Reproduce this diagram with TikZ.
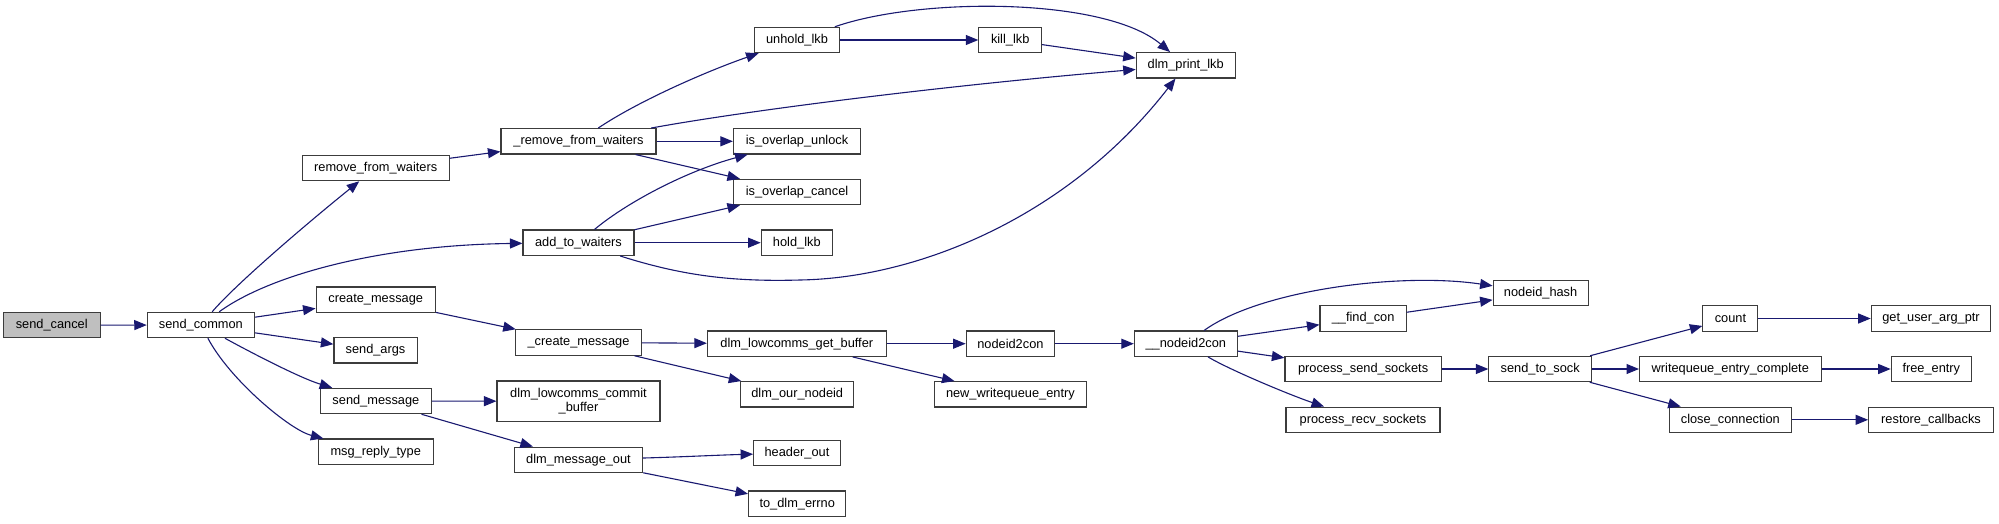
\documentclass[tikz,border=0pt]{standalone}
\usepackage{fontspec}
\setmainfont{Liberation Sans}
\usetikzlibrary{arrows.meta}
\definecolor{edgeblue}{RGB}{25,25,112}
\definecolor{boxline}{RGB}{60,60,60}
\definecolor{rootfill}{RGB}{191,191,191}
\begin{document}
\begin{tikzpicture}[x=1pt,y=-1pt,
  box/.style={draw=boxline, line width=1.1pt, inner sep=0pt, minimum height=25.4pt,
    font=\fontsize{12.8}{13.6}\selectfont, text=black, align=center},
  edge/.style={draw=edgeblue, line width=1.1pt, -{Triangle[length=12.5pt,width=10pt]}}]
\useasboundingbox (0,0) rectangle (1999,523);
% nodes
\node[box, fill=rootfill, minimum width=96.7pt] (sendcancel) at (51.7,325.2) {send\_cancel};
\node[box, minimum width=107.2pt] (sendcommon) at (200.9,325) {send\_common};
\node[box, minimum width=146.9pt] (rfw) at (375.7,168) {remove\_from\_waiters};
\node[box, minimum width=155pt] (urfw) at (578.5,141.3) {\_remove\_from\_waiters};
\node[box, minimum width=111pt] (atw) at (578.5,242.7) {add\_to\_waiters};
\node[box, minimum width=119.2pt] (cm) at (375.7,299.7) {create\_message};
\node[box, minimum width=83.1pt] (sargs) at (375.5,350.3) {send\_args};
\node[box, minimum width=110.8pt] (smsg) at (375.9,401) {send\_message};
\node[box, minimum width=114.7pt] (mrt) at (375.7,451.7) {msg\_reply\_type};
\node[box, minimum width=125.7pt] (ucm) at (578.5,342.5) {\_create\_message};
\node[box, minimum width=163pt, minimum height=40.7pt] (lcb) at (578.5,401.3) {dlm\_lowcomms\_commit\\\_buffer};
\node[box, minimum width=128.3pt] (dmo) at (578.5,459.8) {dlm\_message\_out};
\node[box, minimum width=84.2pt] (unhold) at (797,40) {unhold\_lkb};
\node[box, minimum width=62.7pt] (kill) at (1010.2,40) {kill\_lkb};
\node[box, minimum width=98.9pt] (print) at (1185.7,65.3) {dlm\_print\_lkb};
\node[box, minimum width=127.1pt] (iou) at (797,141.3) {is\_overlap\_unlock};
\node[box, minimum width=127.1pt] (ioc) at (797,192) {is\_overlap\_cancel};
\node[box, minimum width=71.2pt] (hold) at (796.8,242.7) {hold\_lkb};
\node[box, minimum width=178.8pt] (lgb) at (796.8,343.7) {dlm\_lowcomms\_get\_buffer};
\node[box, minimum width=88.4pt] (n2c) at (1010.4,343.7) {nodeid2con};
\node[box, minimum width=102.9pt] (un2c) at (1185.8,343.7) {\_\_nodeid2con};
\node[box, minimum width=113.2pt] (onid) at (797.2,394.3) {dlm\_our\_nodeid};
\node[box, minimum width=152.4pt] (nwe) at (1010.4,394.3) {new\_writequeue\_entry};
\node[box, minimum width=86.7pt] (hout) at (797,453) {header\_out};
\node[box, minimum width=97.2pt] (errno) at (797.2,503.7) {to\_dlm\_errno};
\node[box, minimum width=94.9pt] (nhash) at (1540.6,293) {nodeid\_hash};
\node[box, minimum width=86.2pt] (fcon) at (1363.1,318.5) {\_\_find\_con};
\node[box, minimum width=156.3pt] (pss) at (1363.1,369) {process\_send\_sockets};
\node[box, minimum width=154pt] (prs) at (1363,419.8) {process\_recv\_sockets};
\node[box, minimum width=102.6pt] (sts) at (1540.2,369) {send\_to\_sock};
\node[box, minimum width=55pt] (count) at (1730.4,318.5) {count};
\node[box, minimum width=119.5pt] (guap) at (1931,318.5) {get\_user\_arg\_ptr};
\node[box, minimum width=181.5pt] (wec) at (1730.3,369) {writequeue\_entry\_complete};
\node[box, minimum width=80.2pt] (free) at (1931.3,369) {free\_entry};
\node[box, minimum width=122.5pt] (close) at (1730.3,419.8) {close\_connection};
\node[box, minimum width=124.7pt] (restore) at (1931,419.8) {restore\_callbacks};
% edges
\draw[edge] (sendcancel) -- (sendcommon);
\draw[edge] (sendcommon) .. controls (235,285) and (305,225) .. (rfw);
\draw[edge] (sendcommon) .. controls (270,275) and (380,245) .. (atw);
\draw[edge] (sendcommon) -- (cm);
\draw[edge] (sendcommon) -- (sargs);
\draw[edge] (sendcommon) .. controls (250,352) and (300,378) .. (smsg);
\draw[edge] (sendcommon) .. controls (230,380) and (290,430) .. (mrt);
\draw[edge] (rfw) -- (urfw);
\draw[edge] (urfw) .. controls (640,100) and (710,70) .. (unhold);
\draw[edge] (urfw) .. controls (750,110) and (950,85) .. (print);
\draw[edge] (urfw) -- (iou);
\draw[edge] (urfw) -- (ioc);
\draw[edge] (atw) .. controls (630,200) and (690,170) .. (iou);
\draw[edge] (atw) -- (ioc);
\draw[edge] (atw) -- (hold);
\draw[edge] (atw) .. controls (680,275) and (730,282) .. (800,280)
  .. controls (920,278) and (1070,215) .. (print);
\draw[edge] (unhold) -- (kill);
\draw[edge] (unhold) .. controls (920,-3) and (1105,-3) .. (print);
\draw[edge] (kill) -- (print);
\draw[edge] (cm) -- (ucm);
\draw[edge] (ucm) -- (lgb);
\draw[edge] (ucm) -- (onid);
\draw[edge] (lgb) -- (n2c);
\draw[edge] (lgb) -- (nwe);
\draw[edge] (n2c) -- (un2c);
\draw[edge] (un2c) .. controls (1260,290) and (1400,272) .. (nhash);
\draw[edge] (un2c) -- (fcon);
\draw[edge] (un2c) -- (pss);
\draw[edge] (un2c) .. controls (1230,370) and (1290,395) .. (prs);
\draw[edge] (fcon) -- (nhash);
\draw[edge] (pss) -- (sts);
\draw[edge] (sts) -- (count);
\draw[edge] (sts) -- (wec);
\draw[edge] (sts) -- (close);
\draw[edge] (count) -- (guap);
\draw[edge] (wec) -- (free);
\draw[edge] (close) -- (restore);
\draw[edge] (smsg) -- (lcb);
\draw[edge] (smsg) -- (dmo);
\draw[edge] (dmo) .. controls (680,457) and (720,455) .. (hout);
\draw[edge] (dmo) -- (errno);
\end{tikzpicture}
\end{document}
